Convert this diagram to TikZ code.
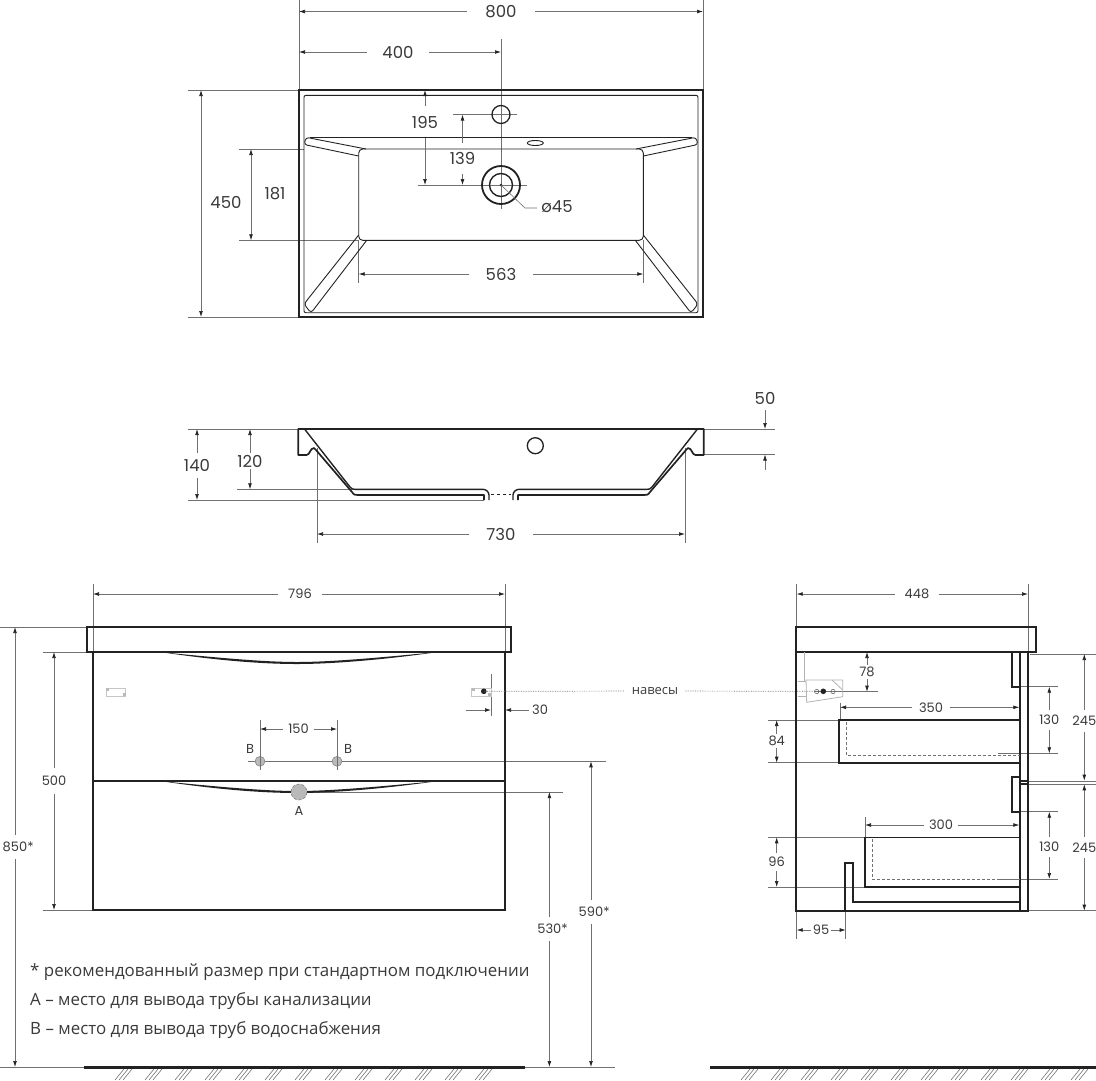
\documentclass[tikz,border=0pt]{standalone}
\usepackage{fontspec}
\setmainfont{Poppins}
\newfontfamily\cyrfont{Open Sans}
\usetikzlibrary{arrows.meta}
\definecolor{inkc}{HTML}{222222}
\definecolor{dimc}{HTML}{707070}
\definecolor{txtc}{HTML}{3A3A3A}
\tikzset{
    outline/.style={draw=inkc,line width=1.9pt,line join=miter},
    inner/.style={draw=inkc,line width=0.9pt},
    extline/.style={draw=dimc,line width=0.6pt},
    dimarr/.style={draw=dimc,line width=0.65pt,{Latex[length=6pt,width=3.8pt,color=inkc]}-},
    dimboth/.style={draw=dimc,line width=0.65pt,{Latex[length=6pt,width=3.8pt,color=inkc]}-{Latex[length=6pt,width=3.8pt,color=inkc]}},
    dimbig/.style={text=txtc,outer sep=0pt,font=\fontsize{16.5}{18}\selectfont},
    dimsmall/.style={text=txtc,outer sep=0pt,font=\fontsize{13}{14}\selectfont},
    notetext/.style={text=txtc,anchor=west,inner sep=0pt,font=\cyrfont\fontsize{16.9}{20}\selectfont},
    hanger/.style={draw=gray!60,line width=0.8pt},
}
\begin{document}
\begin{tikzpicture}[x=1pt,y=-1pt]
    \useasboundingbox (0,0) rectangle (1096,1080);

    % extension lines
    \foreach \xa/\ya/\xb/\yb in {
        299/0/299/90, 703/0/703/90, 501/39/501/209, 453/114.5/517/114.5, 418/185/527/185,
        188/90/299/90, 188/317/299/317, 239/149/304/149, 239/240.3/358/240.3,
        358.7/240/358.7/283, 643.3/240/643.3/283,
        188/429/298/429, 703/429/775/429, 703/454.5/775/454.5, 188/500/484/500, 237/489.3/352/489.3,
        317/448/317/543, 685/448/685/543,
        93/584/93/652, 505/584/505/652, 0/627/87/627, 43/652/87/652, 43/910/93/910,
        491/674/491/716, 260/720/260/770, 337/720/337/770, 248/761.3/606/761.3, 310/792/563/792,
        0/1067/84/1067, 525/1067/615/1067,
        796.7/584/796.7/627, 1028/584/1028/652, 1030/654/1096/654, 1028/910.7/1096/910.7,
        1020/781/1096/781, 1020/784.3/1096/784.3,
        815/691.7/878/691.7, 840/703/840/720, 865/817/865/837,
        768/720/838/720, 768/762.7/838/762.7, 768/837.3/865/837.3, 768/887/865/887,
        1012/686.7/1058/686.7, 998/753.3/1058/753.3, 1012/811.7/1058/811.7, 998/879/1058/879,
        796.7/910/796.7/939, 845.7/910/845.7/939}{
        \draw[extline] (\xa,\ya) -- (\xb,\yb);
    }

    % basin, plan
    \draw[outline] (299,90) rectangle (703,317);
    \draw[inner,rounded corners=2pt] (304,95.3) rectangle (698,312.7);
    \draw[inner,rounded corners=4pt] (358.7,149) rectangle (643.3,240.3);
    \draw[inner] (310,137.3) -- (692,137.3);
    \foreach \sd in {1,-1}{
        \begin{scope}[shift={(501,0)},xscale=\sd]
            \draw[inner,rounded corners=3pt] (-135,149) -- (-195,137.3) -- (-197,144.5) -- (-142.3,156);
            \draw[inner,rounded corners=3pt] (-142.3,235) -- (-197,304) -- (-190,313) -- (-134.3,240.3);
        \end{scope}
    }
    \node[draw=inkc,line width=1.3pt,circle,minimum size=18pt,inner sep=0pt] (tap) at (501,114.5) {};
    \node[draw=inkc,line width=1.8pt,circle,minimum size=38pt,inner sep=0pt] (drainout) at (501,185) {};
    \node[draw=inkc,line width=1.4pt,circle,minimum size=23pt,inner sep=0pt] (drainin) at (501,185) {};
    \fill[inkc] (drainin.center) circle (1.3);
    \draw[inner] (535.3,143) ellipse (8 and 2.5);
    \node[dimbig] (d45) at (557,207) {ø45};
    \draw[extline] (drainin.center) -- (525,208) -- (537,208);

    % basin, section
    \foreach \sd in {1,-1}{
        \begin{scope}[shift={(501,0)},xscale=\sd]
            \draw[outline,line width=1.7pt,line join=round] (0,429) -- (-202.7,429) -- (-202.7,455) -- (-194.5,455)
                .. controls (-191,455) and (-191,448) .. (-187,448) -- (-185,450) -- (-149,492)
                .. controls (-147,495) and (-146,495) .. (-143,495) -- (-17,495) -- (-17,500);
            \draw[outline,line width=1.4pt,line join=round] (-196.5,429) -- (-151,487)
                .. controls (-149,489.3) and (-148,489.3) .. (-146,489.3) -- (-18,489.3)
                .. controls (-15,489.3) and (-12,492) .. (-12,495) -- (-12,500);
        \end{scope}
    }
    \draw[inner,dashed] (491,494) -- (511,494);
    \node[draw=inkc,line width=1.3pt,circle,minimum size=16pt,inner sep=0pt] (overflow) at (535.3,445.7) {};

    % cabinet, front
    \draw[outline] (93,652) rectangle (505,910);
    \draw[outline] (87,627) rectangle (511,652);
    \draw[outline] (93,781) -- (505,781);
    \foreach \yy in {652,781}{
        \fill[inkc] (160,\yy) .. controls (220,\yy+9) and (265,\yy+12) .. (297,\yy+12)
            .. controls (335,\yy+12) and (390,\yy+7) .. (438,\yy)
            .. controls (390,\yy+4.5) and (335,\yy+10) .. (297,\yy+10)
            .. controls (265,\yy+10) and (220,\yy+6) .. cycle;
    }
    \foreach \xx in {106,471.5}{
        \draw[hanger,draw=gray!45] (\xx,688) rectangle (\xx+19.5,696);
        \fill[gray!55] (\xx,688) rectangle (\xx+3,691);
        \fill[gray!55] (\xx+16.5,693) rectangle (\xx+19.5,696);
    }
    \fill[inkc] (483.8,691.3) circle (2.8);
    \foreach \xx in {260,337}{
        \draw[fill=gray!55,draw=dimc,line width=0.4pt] (\xx,761.3) circle (5);
        \draw[extline] (\xx,756) -- (\xx,767);
    }
    \draw[fill=gray!55,draw=dimc,line width=0.5pt,densely dashed] (299,792) circle (8);
    \node[dimsmall] (lblB1) at (250,749) {B};
    \node[dimsmall] (lblB2) at (348,749) {B};
    \node[dimsmall] (lblA) at (299,811) {A};

    % hangers link
    \node[dimsmall,inner sep=7pt] (hang) at (655,691) {\cyrfont навесы};
    \draw[draw=dimc,line width=0.7pt,densely dotted] (483.8,691.3) -- (hang);
    \draw[draw=dimc,line width=0.7pt,densely dotted] (823.3,691.3) -- (hang);

    % cabinet, side
    \draw[outline] (796,652) rectangle (1028,910.7);
    \draw[outline] (796,627) rectangle (1035.7,652);
    \draw[outline] (1020,652) -- (1020,910.7);
    \draw[outline] (1012,652) -- (1012,687) -- (1020,687);
    \draw[outline] (1020,776.7) -- (1012,776.7) -- (1012,811.7) -- (1020,811.7);
    \draw[outline] (1020,781) -- (1028,781);
    \draw[outline] (1020,784.3) -- (1028,784.3);
    \draw[outline] (1020,720) -- (838.7,720) -- (838.7,762.7) -- (1020,762.7);
    \draw[outline,line width=1.5pt] (1020,837.3) -- (865,837.3) -- (865,887) -- (1020,887);
    \draw[outline] (845,910.7) -- (845,863.3) -- (853.3,863.3) -- (853.3,902) -- (1020,902);
    \draw[draw=dimc,line width=0.7pt,densely dashed] (846.7,722) -- (846.7,755.7) -- (1020,755.7);
    \draw[draw=dimc,line width=0.7pt,densely dashed] (872.7,839) -- (872.7,879.3) -- (1020,879.3);
    % hanger bracket
    \draw[hanger] (806,680) -- (842.7,680) -- (842.7,696.7) -- (806.7,702.3) -- cycle;
    \draw[hanger] (832,680) -- (842.7,690);
    \draw[hanger] (804,652) -- (804,681);
    \draw[hanger] (797.5,681) -- (806,681);
    \draw[hanger] (797.5,696) -- (806,696);
    \fill[inkc] (823.3,691.3) circle (2.8);
    \foreach \xx in {816.7,833}{
        \draw[draw=gray!70!black,line width=0.5pt] (\xx,691.5) circle (2.2);
    }

    % dimensions, large labels
    \foreach \nn/\txt/\lx/\ly/\gp/\xa/\ya/\xb/\yb in {
        d800/800/501/11.5/18/299/11.5/703/11.5,
        d400/400/398/52/15/299/52/501/52,
        d195/195/425/122/10/425/90/425/185,
        d139/139/462.5/158.5/9/462.5/114.5/462.5/185,
        d563/563/501/274/17/358.7/274/643.3/274,
        d140/140/197/465.5/6/197/429/197/500,
        d120/120/250/461/2/250/429/250/489.3,
        d730/730/501/534/17/317/534/685/534}{
        \node[dimbig,inner sep=\gp pt] (\nn) at (\lx,\ly) {\txt};
        \draw[dimarr] (\xa,\ya) -- (\nn);
        \draw[dimarr] (\xb,\yb) -- (\nn);
    }
    \draw[dimboth] (201,90) -- (201,317);
    \node[dimbig] (d450) at (226,202) {450};
    \draw[dimboth] (251,149) -- (251,240.3);
    \node[dimbig] (d181) at (275,194) {181};
    \node[dimbig,inner sep=6pt] (d50) at (765,398) {50};
    \draw[dimarr] (765,429) -- (d50);
    \coordinate (d50end) at (765,470);
    \draw[dimarr] (765,454.5) -- (d50end);

    % dimensions, small labels
    \foreach \nn/\txt/\lx/\ly/\gp/\xa/\ya/\xb/\yb in {
        d796/796/300/594/10/93/594/505/594,
        d850/850\rlap{*}/15/847/7/15/627/15/1067,
        d500/500/54/781/8/54/652/54/910,
        d150/150/298.5/729/5/260/729/337/729,
        d590/590\rlap{*}/591/912/7/591/761.3/591/1067,
        d530/530\rlap{*}/549.4/929/7/549.4/792/549.4/1067,
        d448/448/917/594/10/796.7/594/1028/594,
        d78/78/867/672/2/867/652/867/691.7,
        d350/350/931/707.3/7/840/707.3/1019.3/707.3,
        d300/300/941/825/5/865/825/1019.3/825,
        d84/84/776.7/741/2/776.7/720/776.7/762.7,
        d96/96/776.7/862/4/776.7/837.3/776.7/887,
        d130a/130/1049.3/720/5/1049.3/686.7/1049.3/753.3,
        d130b/130/1049.3/847/5/1049.3/811.7/1049.3/879,
        d245a/245/1084.3/721/6/1084.3/654/1084.3/780.7,
        d245b/245/1084.3/847.5/6/1084.3/784.3/1084.3/910.7,
        d95/95/821/930/1.5/796.7/930/845.7/930}{
        \node[dimsmall,inner sep=\gp pt] (\nn) at (\lx,\ly) {\txt};
        \draw[dimarr] (\xa,\ya) -- (\nn);
        \draw[dimarr] (\xb,\yb) -- (\nn);
    }
    \node[dimsmall,inner sep=3pt] (d30) at (540,710) {30};
    \draw[dimarr] (505,710) -- (d30);
    \coordinate (d30end) at (466.4,710);
    \draw[dimarr] (491,710) -- (d30end);

    % notes
    \node[notetext] (note1) at (30,972) {* рекомендованный размер при стандартном подключении};
    \node[notetext] (note2) at (30,1001) {А – место для вывода трубы канализации};
    \node[notetext] (note3) at (30,1030) {В – место для вывода труб водоснабжения};

    % floor
    \draw[inkc,line width=3pt] (84,1067) -- (525,1067);
    \draw[inkc,line width=3pt] (710,1067) -- (1096,1067);
    \foreach \xx in {115,145,...,475,741,771,...,1100}{
        \foreach \dd in {0,4,8}{
            \draw[extline] (\xx+\dd,1080) -- (\xx+\dd+9,1069);
        }
    }
\end{tikzpicture}
\end{document}
